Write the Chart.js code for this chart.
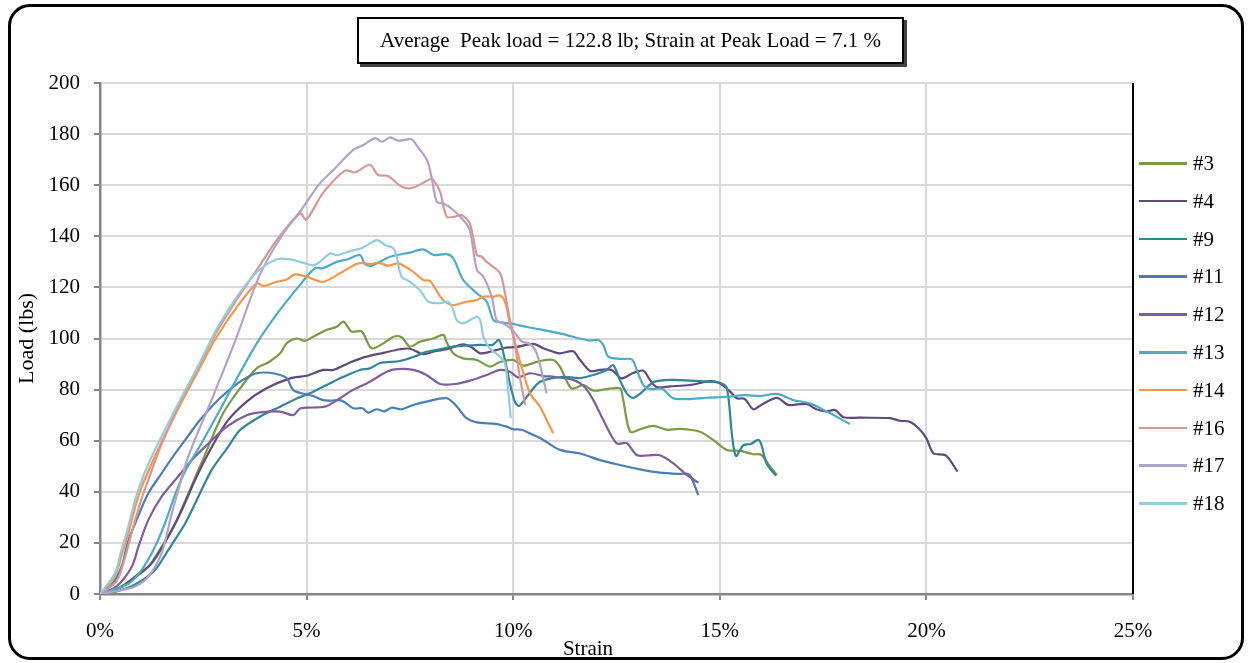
<!DOCTYPE html>
<html>
<head>
<meta charset="utf-8">
<title>Load vs Strain</title>
<script src="https://cdn.jsdelivr.net/npm/chart.js@4.4.1/dist/chart.umd.min.js"></script>
<style>
  html, body { margin: 0; padding: 0; background: #fff; }
  #wrap { position: relative; width: 1250px; height: 663px; overflow: hidden; }
  #frame { position: absolute; left: 8px; top: 4px; width: 1230px; height: 650px;
           border: 3px solid #000; border-radius: 22px; pointer-events: none; }
  #chart { position: absolute; left: 0; top: 0; }
  #titleBox { position: absolute; left: 357px; top: 17px; width: 543px; height: 43px;
              border: 2px solid #000; box-shadow: 3px 3px 0 #444; background: #fff;
              font-family: "Liberation Serif", "Times New Roman", serif; font-size: 21px;
              line-height: 43px; text-align: center; white-space: pre; }
  #xTitle { position: absolute; left: 538px; width: 100px; top: 635px; text-align: center;
            font-family: "Liberation Serif", serif; font-size: 21px; line-height: 26px; }
  #legend { position: absolute; left: 0; top: 0; font-family: "Liberation Serif", serif; font-size: 21px; }
  .item { position: absolute; height: 24px; line-height: 24px; white-space: nowrap; }
  .swatch { position: absolute; left: 0; top: 11px; width: 48px; height: 2.5px; }
  .txt { position: absolute; left: 54px; top: 0; }
</style>
</head>
<body>
<div id="wrap">
  <canvas id="chart" width="1250" height="663"></canvas>
  <div id="titleBox">Average  Peak load = 122.8 lb; Strain at Peak Load = 7.1 %</div>
  <div id="xTitle">Strain</div>
  <div id="legend"></div>
  <div id="frame"></div>
</div>
<script>
// specimen names
const seriesNames = ['#3', '#4', '#9', '#11', '#12', '#13', '#14', '#16', '#17', '#18'];

// strain (%) and load (lbs)
const strain3 = [0, 0.4, 0.8, 1.17, 1.49, 1.82, 2.14, 2.5, 2.98, 3.39, 3.79, 4.07, 4.36, 4.52, 4.76, 4.96, 5.16, 5.48, 5.73, 5.89, 6.09, 6.33, 6.57, 6.86, 7.1, 7.3, 7.5, 7.74, 8.07, 8.31, 8.39, 8.55, 8.79, 9.12, 9.44, 9.68, 10.0, 10.24, 10.65, 10.97, 11.13, 11.41, 11.7, 11.94, 12.26, 12.58, 12.65, 12.83, 13.07, 13.39, 13.71, 14.04, 14.52, 14.84, 15.17, 15.49, 15.81, 16.0, 16.22, 16.38];
const load3 = [0, 2, 6, 10.7, 18.5, 27.6, 39.4, 53, 70.7, 80.5, 88.3, 90.6, 94.2, 98.2, 100, 99.1, 100.7, 103.3, 104.6, 106.6, 102.7, 102.8, 96.2, 98.1, 100.7, 100.5, 96.8, 98.7, 100, 101.4, 98.5, 94.2, 92.2, 91.6, 89, 90.8, 91.6, 89.4, 91.2, 91.6, 89, 80.5, 81.8, 79.6, 80.2, 80.5, 77, 63.5, 64.5, 65.8, 64.3, 64.6, 63.5, 60.3, 56.4, 56, 54.7, 54.5, 49.8, 46.6];

const strain4 = [0, 0.5, 0.85, 1.25, 1.65, 1.98, 2.3, 2.62, 3.07, 3.55, 4.03, 4.6, 5.0, 5.4, 5.65, 6.05, 6.45, 6.86, 7.26, 7.5, 7.82, 8.1, 8.39, 8.79, 9.0, 9.2, 9.44, 9.76, 10.08, 10.49, 10.73, 10.97, 11.13, 11.45, 11.6, 11.86, 12.1, 12.38, 12.62, 12.9, 13.15, 13.31, 13.47, 13.8, 14.28, 14.76, 15.0, 15.25, 15.41, 15.6, 15.81, 16.0, 16.38, 16.66, 17.1, 17.34, 17.59, 17.79, 17.99, 18.39, 19.12, 19.36, 19.6, 19.85, 20.0, 20.17, 20.45, 20.57, 20.75];
const load4 = [0, 2.5, 6.8, 12, 22.4, 32.9, 44.6, 55, 67.4, 75.3, 80.5, 84.4, 85.4, 87.7, 87.7, 90.6, 92.9, 94.4, 95.8, 96, 93.9, 95, 95.8, 97.7, 96.5, 94.2, 94.8, 96.2, 96.7, 97.9, 96.2, 94.8, 94.2, 95, 92, 87.3, 87.7, 87.7, 84.4, 86.5, 87.4, 83.8, 81, 81.3, 81.8, 83.3, 82.5, 79.2, 76.6, 76.4, 72.3, 74, 76.8, 74, 74.4, 72.3, 71.5, 72, 69.2, 69, 68.8, 67.8, 67.4, 64.2, 60.9, 55.1, 54.4, 52.4, 47.9];

const strain9 = [0, 0.4, 0.85, 1.33, 1.65, 2.06, 2.38, 2.7, 3.1, 3.39, 3.87, 4.36, 4.76, 5.16, 5.57, 5.89, 6.29, 6.53, 6.78, 7.26, 7.66, 7.9, 8.23, 8.55, 9.2, 9.5, 9.66, 9.8, 9.92, 10.04, 10.14, 10.33, 10.65, 11.2, 11.6, 12.0, 12.26, 12.42, 12.58, 12.75, 12.91, 13.15, 13.4, 13.87, 14.3, 14.7, 15.0, 15.17, 15.29, 15.39, 15.57, 15.75, 15.93, 16.01, 16.13, 16.36];
const load9 = [0, 1, 3.7, 9.4, 17.2, 27.6, 38.1, 48.5, 57.6, 64.2, 69.4, 73.3, 76.5, 79.2, 82.5, 85, 87.7, 88.3, 90.4, 91.2, 93.2, 94.8, 95.8, 96.8, 97.5, 97.5, 99.4, 91.6, 82.5, 75.3, 73.6, 77.2, 83.1, 85, 84.5, 86, 87.7, 89.6, 83.8, 78.5, 76.8, 79.5, 83, 83.8, 83.5, 83.1, 82.7, 80.6, 63, 54, 58.3, 58.7, 60.3, 58.3, 51.2, 46.2];

const strain11 = [0, 0.3, 0.52, 0.69, 0.85, 1.17, 1.49, 1.82, 2.14, 2.42, 2.9, 3.39, 3.79, 4.11, 4.36, 4.52, 4.68, 4.92, 5.16, 5.4, 5.57, 5.85, 6.13, 6.35, 6.49, 6.69, 6.88, 7.06, 7.3, 7.58, 7.9, 8.39, 8.63, 8.87, 9.12, 9.6, 9.84, 10.0, 10.2, 10.49, 10.73, 11.13, 11.62, 12.1, 12.58, 13.07, 13.55, 14.04, 14.24, 14.32, 14.48];
const load11 = [0, 4, 10.7, 21.1, 27.6, 39.4, 47.2, 55, 62, 68.1, 76.6, 83.1, 86.4, 86.6, 85.7, 84.5, 79.8, 78.4, 77.5, 75.9, 75.7, 75.7, 72.7, 72.7, 71, 72.3, 71.5, 72.9, 72.3, 74, 75.3, 76.6, 73.5, 68.8, 67.2, 66.5, 65.5, 64.5, 64.3, 62.2, 60.3, 56.4, 55, 52.4, 50.5, 48.8, 47.5, 47, 47, 45.3, 38.7];

const strain12 = [0, 0.4, 0.77, 0.93, 1.17, 1.49, 1.82, 2.22, 2.54, 3.07, 3.55, 3.87, 4.36, 4.68, 4.84, 5.16, 5.48, 5.81, 6.05, 6.53, 6.94, 7.18, 7.58, 7.9, 8.23, 8.6, 8.95, 9.36, 9.68, 9.92, 10.12, 10.41, 10.73, 11.0, 11.45, 11.7, 11.94, 12.18, 12.5, 12.75, 12.99, 13.25, 13.55, 13.87, 14.2, 14.48];
const load12 = [0, 3, 10.7, 18.5, 29, 38.1, 44.6, 52.4, 57.6, 65.5, 70, 71.1, 71.4, 70, 72.6, 73, 73.5, 76.6, 79.2, 83.1, 87, 88, 87.7, 85.7, 82.2, 82.2, 83.5, 85.7, 87.7, 87, 84.8, 86.4, 85.3, 85, 83.8, 81.5, 75.9, 68.1, 59, 59, 54.4, 54.2, 54.3, 51.2, 46.6, 43.6];

const strain13 = [0, 0.69, 1.01, 1.33, 1.57, 1.82, 2.06, 2.42, 2.9, 3.3, 3.79, 4.3, 4.84, 5.2, 5.4, 5.73, 6.0, 6.29, 6.41, 6.58, 7.02, 7.5, 7.82, 8.07, 8.39, 8.55, 8.79, 9.12, 9.36, 9.52, 9.68, 10.0, 10.33, 10.65, 11.13, 11.62, 11.85, 12.06, 12.18, 12.3, 12.6, 12.87, 12.99, 13.15, 13.31, 13.6, 13.87, 14.2, 14.68, 15.17, 15.6, 15.97, 16.38, 16.78, 17.18, 17.59, 18.15];
const load13 = [0, 4, 9.4, 18.5, 27.6, 39, 48, 58, 72, 84, 98, 110, 121, 127.5, 127.5, 130, 131, 132.7, 129.2, 128.5, 132, 133.6, 134.9, 132.7, 133, 131.4, 122.9, 117.7, 114.4, 107.2, 106.4, 105.7, 104.5, 103.6, 102, 100, 99.2, 99.4, 97.5, 92.9, 92, 91.8, 87.7, 81.8, 80.2, 80.3, 76.6, 76.3, 76.8, 77.2, 77.8, 77.5, 78.3, 75.9, 74.6, 71.4, 66.5];

const strain14 = [0, 0.36, 0.52, 0.69, 0.85, 1.01, 1.25, 1.45, 1.94, 2.4, 2.8, 3.3, 3.79, 3.95, 4.28, 4.52, 4.72, 5.0, 5.4, 5.81, 6.25, 6.57, 6.74, 6.97, 7.22, 7.58, 7.82, 7.99, 8.27, 8.51, 8.87, 9.12, 9.28, 9.52, 9.68, 9.8, 9.92, 10.08, 10.24, 10.41, 10.65, 10.81, 10.97];
const load14 = [0, 7, 15, 24, 34, 42, 51, 58, 74, 88, 100, 112, 121.6, 120.6, 122.2, 123.1, 125.1, 124.2, 122.2, 125.5, 129.4, 129.2, 129.7, 128.5, 129.4, 126.1, 122.9, 122.5, 115.7, 113.1, 114.4, 115, 116.4, 116.4, 116.8, 114.4, 106, 96, 87, 78.5, 73.3, 68.1, 62.9];

const strain16 = [0, 0.4, 0.6, 0.8, 1.0, 1.2, 1.45, 1.94, 2.4, 2.8, 3.3, 3.8, 4.3, 4.84, 4.99, 5.4, 5.93, 6.17, 6.53, 6.73, 6.97, 7.3, 7.57, 7.99, 8.07, 8.23, 8.39, 8.59, 8.75, 8.95, 9.12, 9.24, 9.36, 9.68, 9.8, 9.92, 10.0, 10.16, 10.29];
const load16 = [0, 5, 14, 26, 37, 46, 57, 75, 89, 102, 115, 127, 139, 149, 146.5, 157, 165.7, 165, 168, 164, 163.6, 159.4, 159, 162.3, 162, 157.5, 147.7, 147.7, 148.3, 145.1, 132.7, 132, 130, 125.6, 117.8, 107.2, 102, 85, 74];

const strain17 = [0, 0.36, 0.85, 1.17, 1.49, 1.73, 1.9, 2.14, 2.7, 3.27, 3.87, 4.43, 4.84, 5.32, 5.65, 6.13, 6.37, 6.66, 6.82, 7.02, 7.22, 7.54, 7.66, 7.91, 8.03, 8.15, 8.31, 8.55, 8.79, 8.95, 9.12, 9.28, 9.48, 9.6, 9.76, 10.0, 10.2, 10.41, 10.57, 10.81];
const load17 = [0, 1, 2.9, 6.8, 16, 31, 41, 54, 76, 99, 125, 141, 149.6, 160.7, 166, 173.8, 175.7, 178.4, 177, 178.7, 177.4, 178, 175.7, 169.9, 162.7, 153.5, 152.8, 150.3, 146.4, 142.5, 126.8, 124.2, 116.4, 107.2, 105.9, 103, 99, 97.8, 94.2, 78.5];

const strain18 = [0, 0.36, 0.52, 0.69, 0.85, 1.01, 1.25, 1.45, 1.94, 2.4, 2.8, 3.3, 3.8, 4.28, 4.6, 4.84, 5.2, 5.57, 5.73, 6.05, 6.33, 6.7, 6.9, 7.1, 7.18, 7.3, 7.5, 7.74, 7.95, 8.23, 8.43, 8.55, 8.63, 8.79, 9.12, 9.2, 9.28, 9.44, 9.68, 9.8, 9.88, 9.94];
const load18 = [0, 8.1, 17.2, 26.6, 36.8, 44.6, 53.7, 60.3, 76, 90, 103, 116, 126, 131, 131, 130, 128.8, 133.3, 132.6, 134.2, 135.3, 138.5, 136.6, 135.3, 132, 124.2, 122.2, 119, 114.4, 113.8, 114.4, 111.2, 107.2, 105.9, 108.5, 107.2, 100.7, 96, 92.9, 90.3, 79.8, 68.8];

const xTickLabels = ['0%', '5%', '10%', '15%', '20%', '25%'];

const strainSets = [strain3, strain4, strain9, strain11, strain12, strain13, strain14, strain16, strain17, strain18];
const loadSets = [load3, load4, load9, load11, load12, load13, load14, load16, load17, load18];
const lineColors = ['#7a9a45', '#604a7b', '#31859c', '#4a7ebb', '#7d5fa0', '#4bacc6', '#f79646', '#d99694', '#b3a2c7', '#93cddd'];

const serif = "'Liberation Serif', 'Times New Roman', serif";

const datasets = seriesNames.map((name, i) => ({
  label: name,
  data: strainSets[i].map((s, j) => ({ x: s, y: loadSets[i][j] })),
  borderColor: lineColors[i],
  backgroundColor: lineColors[i],
  borderWidth: 2.2,
  pointRadius: 0,
  tension: 0.3,
  fill: false,
  order: seriesNames.length - i
}));

// black separator on the right edge of the plot
const rightEdge = {
  id: 'rightEdge',
  afterDatasetsDraw(chart) {
    const { ctx, chartArea } = chart;
    ctx.save();
    ctx.strokeStyle = '#000';
    ctx.lineWidth = 2;
    ctx.beginPath();
    ctx.moveTo(chartArea.right, chartArea.top);
    ctx.lineTo(chartArea.right, chartArea.bottom);
    ctx.stroke();
    ctx.restore();
  }
};

const ctx = document.getElementById('chart');
const myChart = new Chart(ctx, {
  type: 'line',
  data: { datasets: datasets },
  options: {
    responsive: false,
    animation: false,
    layout: { padding: { left: 0, right: 117, top: 83, bottom: 0 } },
    plugins: {
      legend: { display: false },
      tooltip: { enabled: false }
    },
    scales: {
      x: {
        type: 'linear',
        min: 0,
        max: 25,
        ticks: {
          stepSize: 5,
          padding: 19,
          color: '#000',
          font: { family: serif, size: 21 },
          callback: (v) => xTickLabels[v / 5]
        },
        grid: { color: '#d9d9d9', lineWidth: 2, tickLength: 6, tickColor: '#868686', tickWidth: 2 },
        border: { color: '#868686', width: 2.5 },
        afterFit: (scale) => { scale.height = 69; }
      },
      y: {
        min: 0,
        max: 200,
        ticks: {
          stepSize: 20,
          padding: 14,
          color: '#000',
          font: { family: serif, size: 21 }
        },
        grid: { color: '#d9d9d9', lineWidth: 2, tickLength: 6, tickColor: '#868686', tickWidth: 2 },
        border: { color: '#868686', width: 2.5 },
        title: { display: true, text: 'Load (lbs)', color: '#000', font: { family: serif, size: 22 }, padding: { top: 14, bottom: 0 } },
        afterFit: (scale) => { scale.width = 100; }
      }
    }
  },
  plugins: [rightEdge]
});

// legend on the right, built from the chart datasets
const legendEl = document.getElementById('legend');
myChart.data.datasets.forEach((ds, i) => {
  const item = document.createElement('div');
  item.className = 'item';
  item.style.left = '1139px';
  item.style.top = (163 + i * 37.8 - 12) + 'px';
  const sw = document.createElement('span');
  sw.className = 'swatch';
  sw.style.background = ds.borderColor;
  const tx = document.createElement('span');
  tx.className = 'txt';
  tx.textContent = ds.label;
  item.appendChild(sw);
  item.appendChild(tx);
  legendEl.appendChild(item);
});
</script>
</body>
</html>
